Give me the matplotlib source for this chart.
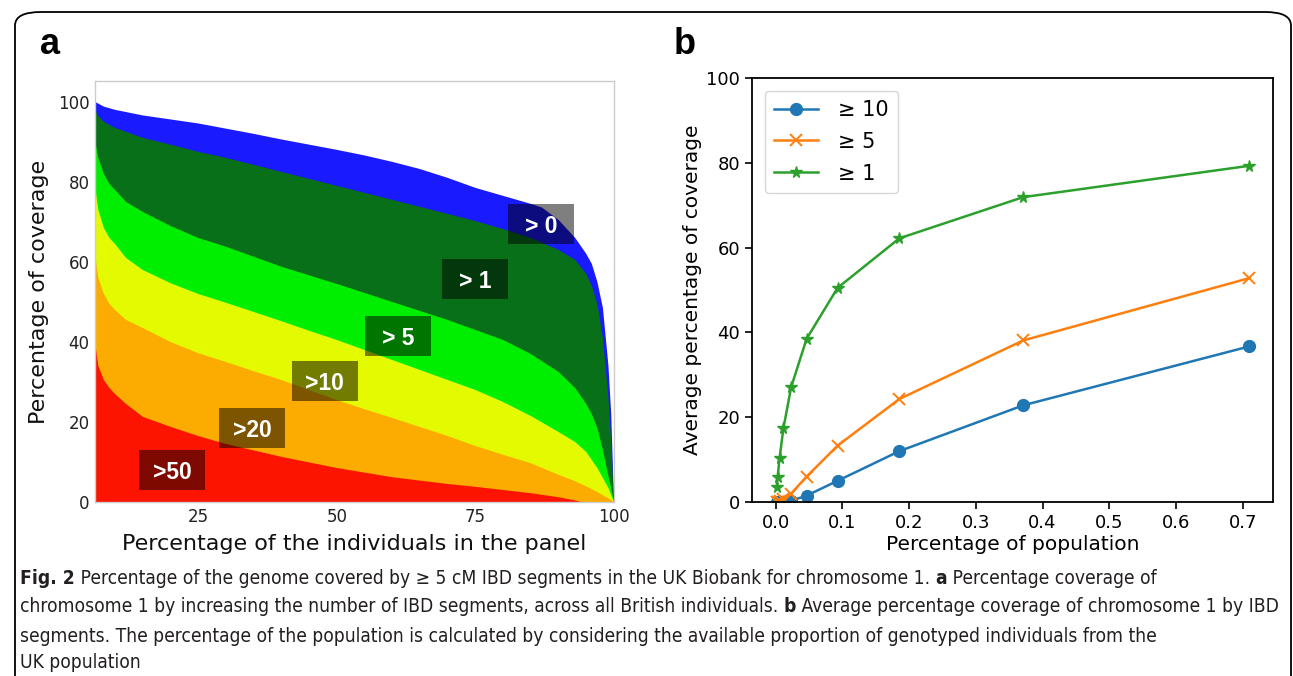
import matplotlib
matplotlib.use("Agg")
import matplotlib.pyplot as plt
from matplotlib.patches import FancyBboxPatch, Rectangle

# ---------------- data: panel a (boundaries of the stacked coverage areas) ----------------
x_gt0 = [6.4, 8, 10, 15, 20, 25, 30, 35, 40, 45, 50, 55, 60, 65, 70, 75, 80, 85, 87, 90, 93, 95, 96, 97, 98, 99, 99.5, 100]
y_gt0 = [100, 98.8, 98, 96.6, 95.6, 94.6, 93.3, 92, 90.6, 89.3, 88, 86.6, 85, 83.2, 81, 78.5, 76.5, 74.5, 73.6, 70.5, 66, 62, 59.5, 55, 48.5, 34, 22, 0]

x_gt1 = [6.4, 6.6, 7, 8, 10, 15, 20, 25, 30, 40, 50, 60, 70, 75, 80, 85, 90, 93, 95, 96, 97, 98, 99, 99.5, 100]
y_gt1 = [99, 97.5, 96.5, 95, 93.5, 91, 89.3, 87.5, 86, 82.5, 79, 75.5, 72, 70.2, 68.2, 66, 63, 60.5, 57, 54, 49.5, 41, 26, 15, 0]

x_gt5 = [6.4, 6.6, 7, 8, 9, 10, 12, 15, 20, 25, 30, 40, 50, 60, 70, 75, 80, 85, 90, 93, 95, 96, 97, 98, 99, 99.5, 100]
y_gt5 = [95, 89, 86, 82, 79.5, 78, 75, 72.5, 69, 66, 63.8, 58.8, 54.5, 50, 45.5, 43, 40.5, 37, 32.5, 28.5, 24.5, 22, 18.5, 13, 6.5, 3.5, 0]

x_gt10 = [6.4, 6.6, 7, 8, 9, 10, 12, 15, 20, 25, 30, 35, 40, 45, 50, 55, 60, 70, 75, 80, 85, 90, 93, 95, 97, 98, 99, 100]
y_gt10 = [85, 77, 73, 68.5, 66, 64.5, 61, 58, 54.7, 52, 49.8, 47.5, 45.2, 42.8, 40.5, 38, 35.5, 30.5, 28, 25, 21.5, 17.5, 15, 12.5, 8.5, 6, 3.5, 0]

x_gt20 = [6.4, 6.6, 7, 8, 9, 10, 12, 15, 20, 25, 30, 35, 40, 45, 50, 55, 60, 70, 75, 80, 85, 90, 93, 95, 97, 99, 100]
y_gt20 = [68, 60, 56, 52, 49.5, 48, 45.5, 43.5, 40, 37.2, 35, 32.7, 30.5, 28, 25.5, 23.2, 21, 16.5, 14, 11.8, 9.7, 6.8, 5.2, 3.9, 2.5, 0.9, 0]

x_gt50 = [6.4, 6.6, 7, 8, 9, 10, 12, 15, 20, 25, 30, 40, 50, 60, 70, 75, 80, 85, 90, 93, 94, 100]
y_gt50 = [44, 38, 34, 30.5, 28.5, 27, 24.5, 21.3, 18.8, 16.5, 14.5, 11.3, 8.5, 6.2, 4.5, 3.8, 3, 2.2, 1.2, 0.4, 0, 0]

layer_labels = ["> 0", "> 1", "> 5", ">10", ">20", ">50"]
label_x = [86.8, 75.0, 61.0, 47.8, 34.7, 20.3]
label_y = [69.5, 55.7, 41.5, 30.2, 18.5, 8.0]

# ---------------- data: panel b ----------------
pop_pct = [0.00145, 0.0029, 0.0058, 0.0116, 0.0232, 0.0464, 0.0928, 0.1855, 0.371, 0.71]
cov_ge10 = [0.01, 0.02, 0.05, 0.1, 0.3, 1.5, 5.0, 12.0, 22.8, 36.7]
cov_ge5 = [0.05, 0.1, 0.25, 0.7, 2.0, 6.0, 13.3, 24.3, 38.1, 52.8]
cov_ge1 = [3.5, 5.9, 10.3, 17.4, 27.1, 38.5, 50.5, 62.2, 71.9, 79.3]
series_labels = ["≥ 10", "≥ 5", "≥ 1"]

caption_lines = [
    [("Fig. 2", "bold"), (" Percentage of the genome covered by \u2265 5 cM IBD segments in the UK Biobank for chromosome 1. ", "normal"),
     ("a", "bold"), (" Percentage coverage of", "normal")],
    [("chromosome 1 by increasing the number of IBD segments, across all British individuals. ", "normal"), ("b", "bold"),
     (" Average percentage coverage of chromosome 1 by IBD", "normal")],
    [("segments. The percentage of the population is calculated by considering the available proportion of genotyped individuals from the", "normal")],
    [("UK population", "normal")],
]

# ---------------- figure ----------------
W, H = 1293, 676
fig = plt.figure(figsize=(W / 100, H / 100), dpi=100)
fig.patch.set_facecolor("white")


def fx(px):
    return px / W


def fy(py):
    return 1 - py / H


# outer rounded frame (open at the bottom)
frame = FancyBboxPatch((fx(15), fy(H + 30)), fx(1291 - 15), (H + 30 - 12) / H,
                       boxstyle="round,pad=0,rounding_size=0.02", transform=fig.transFigure,
                       facecolor="none", edgecolor="black", linewidth=1.3, zorder=0)
fig.patches.append(frame)

# ---------------- panel a ----------------
axa = fig.add_axes([fx(95), fy(502), fx(614 - 95), (502 - 81) / H])
colors_a = ["#1a1aff", "#077019", "#00ee00", "#e4fa00", "#fcab00", "#fc1300"]
xs = [x_gt0, x_gt1, x_gt5, x_gt10, x_gt20, x_gt50]
ys = [y_gt0, y_gt1, y_gt5, y_gt10, y_gt20, y_gt50]
for xv, yv, c in zip(xs, ys, colors_a):
    axa.fill_between(xv, 0, yv, facecolor=c, edgecolor="none", linewidth=0)
axa.set_xlim(6.4, 100)
axa.set_ylim(0, 105.2)
# label boxes: fixed pixel size (66 x 40 px) converted to data units
bw = 66 / (fx(614 - 95) * W) * (100 - 6.4)
bh = 40 / ((502 - 81)) * 105.2
for lab, lx, ly in zip(layer_labels, label_x, label_y):
    axa.add_patch(Rectangle((lx - bw / 2, ly - bh / 2), bw, bh, facecolor="black", alpha=0.5,
                            edgecolor="none", zorder=3))
    axa.text(lx, ly, lab, color="white", fontsize=16.5, fontweight="bold", family="Liberation Sans",
             ha="center", va="center_baseline", zorder=4)
axa.set_xticks([25, 50, 75, 100])
axa.set_yticks([0, 20, 40, 60, 80, 100])
axa.tick_params(length=0, labelsize=12, pad=4, colors="#222222")
for s in axa.spines.values():
    s.set_color("#cccccc")
    s.set_linewidth(1.0)
axa.set_xlabel("Percentage of the individuals in the panel", fontsize=16, labelpad=6, color="#111111")
axa.set_ylabel("Percentage of coverage", fontsize=16, labelpad=6, color="#111111")

# ---------------- panel b ----------------
axb = fig.add_axes([fx(752), fy(502), fx(1273 - 752), (502 - 78) / H])
axb.plot(pop_pct, cov_ge10, "-o", color="#1f77b4", lw=1.8, ms=8.5, label=series_labels[0])
axb.plot(pop_pct, cov_ge5, "-x", color="#ff7f0e", lw=1.8, ms=8.5, mew=1.4, label=series_labels[1])
axb.plot(pop_pct, cov_ge1, "-*", color="#2ca02c", lw=1.8, ms=8.5, label=series_labels[2])
axb.set_xlim(-0.0355, 0.7455)
axb.set_ylim(0, 100)
axb.set_xticks([0.0, 0.1, 0.2, 0.3, 0.4, 0.5, 0.6, 0.7])
axb.set_yticks([0, 20, 40, 60, 80, 100])
axb.tick_params(labelsize=13, length=5, width=1.2, direction="out")
for s in axb.spines.values():
    s.set_linewidth(1.3)
axb.set_xlabel("Percentage of population", fontsize=14.5, labelpad=2)
axb.set_ylabel("Average percentage of coverage", fontsize=14.5, labelpad=3)
leg = axb.legend(loc="upper left", fontsize=15, handlelength=2.1, handletextpad=1.0,
                 borderpad=0.45, labelspacing=0.57, framealpha=0.8, borderaxespad=0.6)

# ---------------- panel letters ----------------
fig.text(fx(40), fy(45), "a", fontsize=26, fontweight="bold", family="Liberation Sans", va="center", ha="left")
fig.text(fx(674), fy(45), "b", fontsize=26, fontweight="bold", family="Liberation Sans", va="center", ha="left")

# ---------------- caption ----------------
renderer = fig.canvas.get_renderer()
cap_fam = ["DejaVu Sans"]
cap_stretch = "condensed"


def text_width(s, w, size):
    t = fig.text(0, 0, "|" + s + "|", fontsize=size, family=cap_fam, weight=w, fontstretch=cap_stretch)
    t2 = fig.text(0, 0, "||", fontsize=size, family=cap_fam, weight=w, fontstretch=cap_stretch)
    wd = t.get_window_extent(renderer).width - t2.get_window_extent(renderer).width
    t.remove()
    t2.remove()
    return wd


cap_x0 = 20.0
target = 1280.0 - cap_x0
test_size = 12.0
natural = sum(text_width(s, w, test_size) for s, w in caption_lines[1])
cap_size = test_size * target / natural

line_y = [578, 607, 636, 662]
for parts, yy in zip(caption_lines, line_y):
    xpos = cap_x0
    for s, w in parts:
        fig.text(fx(xpos), fy(yy), s, fontsize=cap_size, family=cap_fam, weight=w, fontstretch=cap_stretch,
                 va="center", ha="left", color="#231f20")
        xpos += text_width(s, w, cap_size)

fig.savefig("out.png", dpi=100)
